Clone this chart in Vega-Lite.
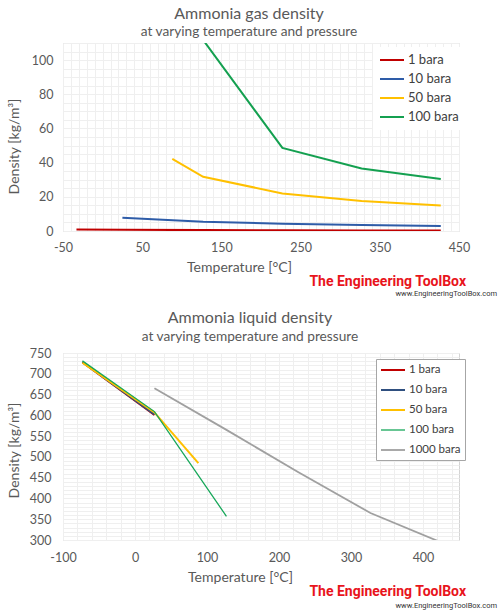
{
  "$schema": "https://vega.github.io/schema/vega-lite/v6.json",
  "padding": {"left": 6, "top": 5, "right": 0, "bottom": 0},
  "background": "white",
  "datasets": {
    "gas": [
      {"T": -33, "rho": 0.89, "p": "1 bara"},
      {"T": 27, "rho": 0.69, "p": "1 bara"},
      {"T": 127, "rho": 0.52, "p": "1 bara"},
      {"T": 227, "rho": 0.41, "p": "1 bara"},
      {"T": 327, "rho": 0.34, "p": "1 bara"},
      {"T": 427, "rho": 0.29, "p": "1 bara"},
      {"T": 25, "rho": 7.7, "p": "10 bara"},
      {"T": 127, "rho": 5.4, "p": "10 bara"},
      {"T": 227, "rho": 4.3, "p": "10 bara"},
      {"T": 327, "rho": 3.5, "p": "10 bara"},
      {"T": 427, "rho": 2.9, "p": "10 bara"},
      {"T": 88, "rho": 42.2, "p": "50 bara"},
      {"T": 127, "rho": 31.7, "p": "50 bara"},
      {"T": 227, "rho": 22.0, "p": "50 bara"},
      {"T": 327, "rho": 17.6, "p": "50 bara"},
      {"T": 427, "rho": 14.9, "p": "50 bara"},
      {"T": 125, "rho": 113, "p": "100 bara"},
      {"T": 227, "rho": 48.6, "p": "100 bara"},
      {"T": 327, "rho": 36.6, "p": "100 bara"},
      {"T": 427, "rho": 30.4, "p": "100 bara"}
    ],
    "liquid": [
      {"T": -73, "rho": 728, "p": "1 bara"},
      {"T": 27, "rho": 601, "p": "1 bara"},
      {"T": -73, "rho": 728, "p": "10 bara"},
      {"T": 27, "rho": 602, "p": "10 bara"},
      {"T": -73, "rho": 727, "p": "50 bara"},
      {"T": 27, "rho": 607, "p": "50 bara"},
      {"T": 88, "rho": 485, "p": "50 bara"},
      {"T": -73, "rho": 731, "p": "100 bara"},
      {"T": 27, "rho": 609, "p": "100 bara"},
      {"T": 127, "rho": 357, "p": "100 bara"},
      {"T": 27, "rho": 665, "p": "1000 bara"},
      {"T": 127, "rho": 565, "p": "1000 bara"},
      {"T": 227, "rho": 463, "p": "1000 bara"},
      {"T": 327, "rho": 365, "p": "1000 bara"},
      {"T": 427, "rho": 293, "p": "1000 bara"}
    ],
    "logo": [{"label": "The Engineering ToolBox"}],
    "www": [{"label": "www.EngineeringToolBox.com"}]
  },
  "config": {
    "font": "Lato",
    "view": {"stroke": "#d4d4d4"},
    "axis": {
      "labelColor": "#595959",
      "titleColor": "#595959",
      "labelFontSize": 12.5,
      "titleFontSize": 14,
      "titleFontWeight": "normal",
      "tickSize": 0,
      "domain": false,
      "labelFlush": false,
      "gridColor": "#d9d9d9",
      "labelExpr": "replace(datum.label, '−', '-')"
    },
    "title": {
      "fontSize": 16,
      "fontWeight": "normal",
      "color": "#595959",
      "subtitleFontSize": 13.7,
      "subtitleColor": "#595959",
      "subtitlePadding": 3.5,
      "offset": 3.5,
      "anchor": "middle"
    },
    "legend": {
      "symbolType": "M-1,0H3",
      "symbolSize": 144,
      "symbolStrokeWidth": 2,
      "labelColor": "#404040",
      "fillColor": "white",
      "labelOffset": 15
    }
  },
  "vconcat": [
    {
      "title": {"text": "Ammonia gas density", "subtitle": "at varying temperature and pressure", "dx": -12},
      "width": 396,
      "height": 188,
      "data": {"name": "gas"},
      "layer": [
        {
          "mark": {"type": "line", "strokeOpacity": 0, "clip": true},
          "encoding": {
            "x": {"field": "T", "type": "quantitative", "scale": {"domain": [-50, 450], "nice": false, "zero": false},
              "axis": {"orient": "bottom", "values": [-50,-40,-30,-20,-10,0,10,20,30,40,50,60,70,80,90,100,110,120,130,140,150,160,170,180,190,200,210,220,230,240,250,260,270,280,290,300,310,320,330,340,350,360,370,380,390,400,410,420,430,440,450],
                "labels": false, "title": null, "gridColor": "#efefef"}},
            "y": {"field": "rho", "type": "quantitative", "scale": {"domain": [0, 110], "nice": false},
              "axis": {"orient": "left", "values": [0,5,10,15,20,25,30,35,40,45,50,55,60,65,70,75,80,85,90,95,100,105,110],
                "labels": false, "title": null, "gridColor": "#efefef"}}
          }
        },
        {
          "mark": {"type": "line", "strokeWidth": 2, "clip": true},
          "encoding": {
            "x": {"field": "T", "type": "quantitative",
              "axis": {"orient": "bottom", "values": [-50, 50, 150, 250, 350, 450], "title": "Temperature [°C]", "labelPadding": 10, "titlePadding": 7, "titleX": 176}},
            "y": {"field": "rho", "type": "quantitative",
              "axis": {"orient": "left", "values": [0, 20, 40, 60, 80, 100], "title": "Density [kg/m³]", "labelPadding": 10, "titlePadding": 10, "titleY": 103}},
            "color": {"field": "p", "type": "nominal",
              "scale": {"domain": ["1 bara", "10 bara", "50 bara", "100 bara"], "range": ["#C00000", "#2E5CA8", "#FFC000", "#14A050"]},
              "legend": {"title": null, "orient": "none", "legendX": 310, "legendY": 4, "padding": 6, "labelFontSize": 13, "rowPadding": 5}},
            "order": {"field": "T", "type": "quantitative"}
          }
        },
        {
          "data": {"name": "logo"},
          "mark": {"type": "text", "align": "right", "baseline": "alphabetic", "dx": 7, "dy": 55, "fontSize": 14, "fontWeight": "bold", "font": "Roboto", "color": "#E8141C"},
          "encoding": {
            "x": {"datum": 450, "type": "quantitative", "axis": null},
            "y": {"datum": 0, "type": "quantitative", "axis": null},
            "text": {"field": "label"}
          }
        },
        {
          "data": {"name": "www"},
          "mark": {"type": "text", "align": "right", "baseline": "middle", "dx": 38, "dy": 63, "fontSize": 7.5, "font": "Roboto", "color": "#333333"},
          "encoding": {
            "x": {"datum": 450, "type": "quantitative", "axis": null},
            "y": {"datum": 0, "type": "quantitative", "axis": null},
            "text": {"field": "label"}
          }
        }
      ],
      "resolve": {"axis": {"x": "independent", "y": "independent"}}
    },
    {
      "title": {"text": "Ammonia liquid density", "subtitle": "at varying temperature and pressure", "dx": -11},
      "width": 396,
      "height": 187,
      "data": {"name": "liquid"},
      "layer": [
        {
          "mark": {"type": "line", "strokeOpacity": 0, "clip": true},
          "encoding": {
            "x": {"field": "T", "type": "quantitative", "scale": {"domain": [-100, 450], "nice": false, "zero": false},
              "axis": {"orient": "bottom", "values": [-100,-80,-60,-40,-20,0,20,40,60,80,100,120,140,160,180,200,220,240,260,280,300,320,340,360,380,400,420,440],
                "labels": false, "title": null, "gridColor": "#efefef"}},
            "y": {"field": "rho", "type": "quantitative", "scale": {"domain": [300, 750], "nice": false, "zero": false},
              "axis": {"orient": "left", "values": [300,310,320,330,340,350,360,370,380,390,400,410,420,430,440,450,460,470,480,490,500,510,520,530,540,550,560,570,580,590,600,610,620,630,640,650,660,670,680,690,700,710,720,730,740,750],
                "labels": false, "title": null, "gridColor": "#efefef"}}
          }
        },
        {
          "mark": {"type": "line", "clip": true},
          "encoding": {
            "x": {"field": "T", "type": "quantitative",
              "axis": {"orient": "bottom", "values": [-100, 0, 100, 200, 300, 400], "title": "Temperature [°C]", "labelPadding": 11, "titlePadding": 7, "titleX": 177}},
            "y": {"field": "rho", "type": "quantitative",
              "axis": {"orient": "left", "values": [300, 350, 400, 450, 500, 550, 600, 650, 700, 750], "title": "Density [kg/m³]", "labelPadding": 12, "titlePadding": 8, "titleY": 97}},
            "color": {"field": "p", "type": "nominal",
              "scale": {"domain": ["1 bara", "10 bara", "50 bara", "100 bara", "1000 bara"], "range": ["#C00000", "#2F4F7F", "#FFC000", "#17A85A", "#A0A0A0"]},
              "legend": {"title": null, "orient": "none", "legendX": 313, "legendY": 6, "padding": 4, "labelFontSize": 11.5, "rowPadding": 7, "strokeColor": "#a6a6a6"}},
            "strokeWidth": {"field": "p", "type": "ordinal",
              "scale": {"type": "ordinal", "domain": ["1 bara", "10 bara", "50 bara", "100 bara", "1000 bara"], "range": [2, 2, 2, 1.3, 1.8]},
              "legend": null},
            "order": {"field": "T", "type": "quantitative"}
          }
        },
        {
          "data": {"name": "logo"},
          "mark": {"type": "text", "align": "right", "baseline": "alphabetic", "dx": 7, "dy": 56, "fontSize": 14, "fontWeight": "bold", "font": "Roboto", "color": "#E8141C"},
          "encoding": {
            "x": {"datum": 450, "type": "quantitative", "axis": null},
            "y": {"datum": 300, "type": "quantitative", "axis": null},
            "text": {"field": "label"}
          }
        },
        {
          "data": {"name": "www"},
          "mark": {"type": "text", "align": "right", "baseline": "middle", "dx": 38, "dy": 65.5, "fontSize": 7.5, "font": "Roboto", "color": "#333333"},
          "encoding": {
            "x": {"datum": 450, "type": "quantitative", "axis": null},
            "y": {"datum": 300, "type": "quantitative", "axis": null},
            "text": {"field": "label"}
          }
        }
      ],
      "resolve": {"axis": {"x": "independent", "y": "independent"}}
    }
  ],
  "spacing": 11,
  "resolve": {"scale": {"color": "independent", "strokeWidth": "independent"}, "legend": {"color": "independent"}}
}
